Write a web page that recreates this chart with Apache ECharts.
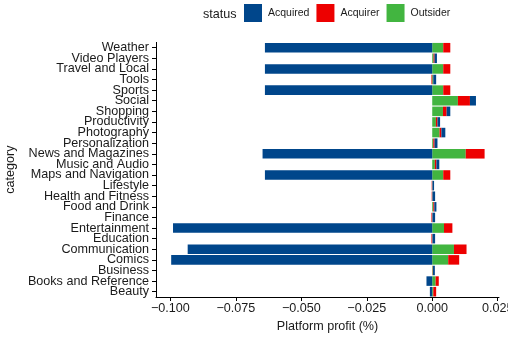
<!DOCTYPE html>
<html>
<head>
<meta charset="utf-8">
<script src="https://cdn.jsdelivr.net/npm/echarts@6/dist/echarts.min.js"></script>
<style>
  html, body { margin: 0; padding: 0; background: #ffffff; }
  #chart { width: 508px; height: 339px; }
</style>
</head>
<body>
<div id="chart"></div>
<script>
// App categories, listed bottom to top
const categories = [
  'Beauty', 'Books and Reference', 'Business', 'Comics', 'Communication',
  'Education', 'Entertainment', 'Finance', 'Food and Drink', 'Health and Fitness',
  'Lifestyle', 'Maps and Navigation', 'Music and Audio', 'News and Magazines',
  'Personalization', 'Photography', 'Productivity', 'Shopping', 'Social',
  'Sports', 'Tools', 'Travel and Local', 'Video Players', 'Weather'
];

// Platform profit (%) by developer status
const acquired = [
  -0.0009, -0.0022, 0.0007, -0.0997, -0.0934,
  0.0010, -0.0990, 0.0010, 0.0008, 0.0010,
  0.0006, -0.0639, 0.0011, -0.0648,
  0.0011, 0.0015, 0.0010, 0.0014, 0.0023,
  -0.0639, 0.0011, -0.0639, 0.0009, -0.0639
];
const acquirer = [
  0.0011, 0.0012, 0.0001, 0.0042, 0.0048,
  -0.0003, 0.0032, -0.0003, 0.0004, -0.0002,
  -0.0002, 0.0027, 0.0006, 0.0072,
  0.0005, 0.0007, 0.0006, 0.0014, 0.0046,
  0.0027, -0.0003, 0.0027, 0.0004, 0.0027
];
const outsider = [
  0.0004, 0.0013, 0.0002, 0.0061, 0.0083,
  0.0001, 0.0045, 0.0001, 0.0004, 0.0001,
  0.0001, 0.0042, 0.0010, 0.0128,
  0.0004, 0.0028, 0.0014, 0.0041, 0.0098,
  0.0042, 0.0004, 0.0042, 0.0005, 0.0042
];

// x-axis tick positions
const xTicks = [-0.1, -0.075, -0.05, -0.025, 0, 0.025];

const FONT = "'Liberation Sans', Arial, Helvetica, sans-serif";
const TEXT = '#1a1a1a';
const COLORS = { Acquired: '#00468B', Acquirer: '#ED0000', Outsider: '#42B540' };

function fmtTick(v) {
  const s = Math.abs(v).toFixed(3);
  return v < -1e-12 ? '\u2212' + s : s;
}

const chart = echarts.init(document.getElementById('chart'), null, { renderer: 'canvas' });

// stacking runs outward from zero in series order: Outsider, Acquirer, Acquired
const stackOrder = [
  ['Outsider', outsider],
  ['Acquirer', acquirer],
  ['Acquired', acquired]
];

chart.setOption({
  animation: false,
  backgroundColor: '#ffffff',
  textStyle: { fontFamily: FONT },
  graphic: [{
    type: 'text',
    left: 203,
    top: 8,
    style: { text: 'status', font: '12.6px ' + FONT, fill: TEXT }
  }],
  legend: {
    data: ['Acquired', 'Acquirer', 'Outsider'],
    left: 244,
    top: 4,
    padding: 0,
    icon: 'rect',
    itemWidth: 18,
    itemHeight: 18,
    itemGap: 7,
    selectedMode: false,
    textStyle: { fontFamily: FONT, fontSize: 10.5, color: TEXT, padding: [2, 0, 0, 1] }
  },
  grid: { left: 156, right: 9, top: 42.4, bottom: 42, outerBoundsMode: 'none', containLabel: false },
  xAxis: {
    type: 'value',
    min: -0.1055,
    max: 0.0255,
    name: 'Platform profit (%)',
    nameLocation: 'middle',
    nameGap: 21,
    nameTextStyle: { fontFamily: FONT, fontSize: 12.6, color: TEXT },
    axisLine: { show: true, onZero: false, lineStyle: { color: '#000', width: 1 } },
    axisTick: { show: true, length: 4, customValues: xTicks, lineStyle: { color: '#000', width: 1 } },
    axisLabel: {
      customValues: xTicks,
      formatter: fmtTick,
      margin: 5,
      fontFamily: FONT,
      fontSize: 12.6,
      color: TEXT
    },
    splitLine: { show: false }
  },
  yAxis: {
    type: 'category',
    data: categories,
    name: 'category',
    nameLocation: 'middle',
    nameGap: 138,
    nameTextStyle: { fontFamily: FONT, fontSize: 12.6, color: TEXT },
    axisLine: { show: true, onZero: false, lineStyle: { color: '#000', width: 1 } },
    axisTick: { show: true, alignWithLabel: true, length: 4, lineStyle: { color: '#000', width: 1 } },
    axisLabel: { margin: 7, fontFamily: FONT, fontSize: 12.6, color: TEXT, interval: 0 },
    splitLine: { show: false }
  },
  series: stackOrder.map(([name, values]) => ({
    name: name,
    type: 'bar',
    stack: 'profit',
    data: values,
    barCategoryGap: '10%',
    itemStyle: { color: COLORS[name] },
    emphasis: { disabled: true }
  }))
});
</script>
</body>
</html>
